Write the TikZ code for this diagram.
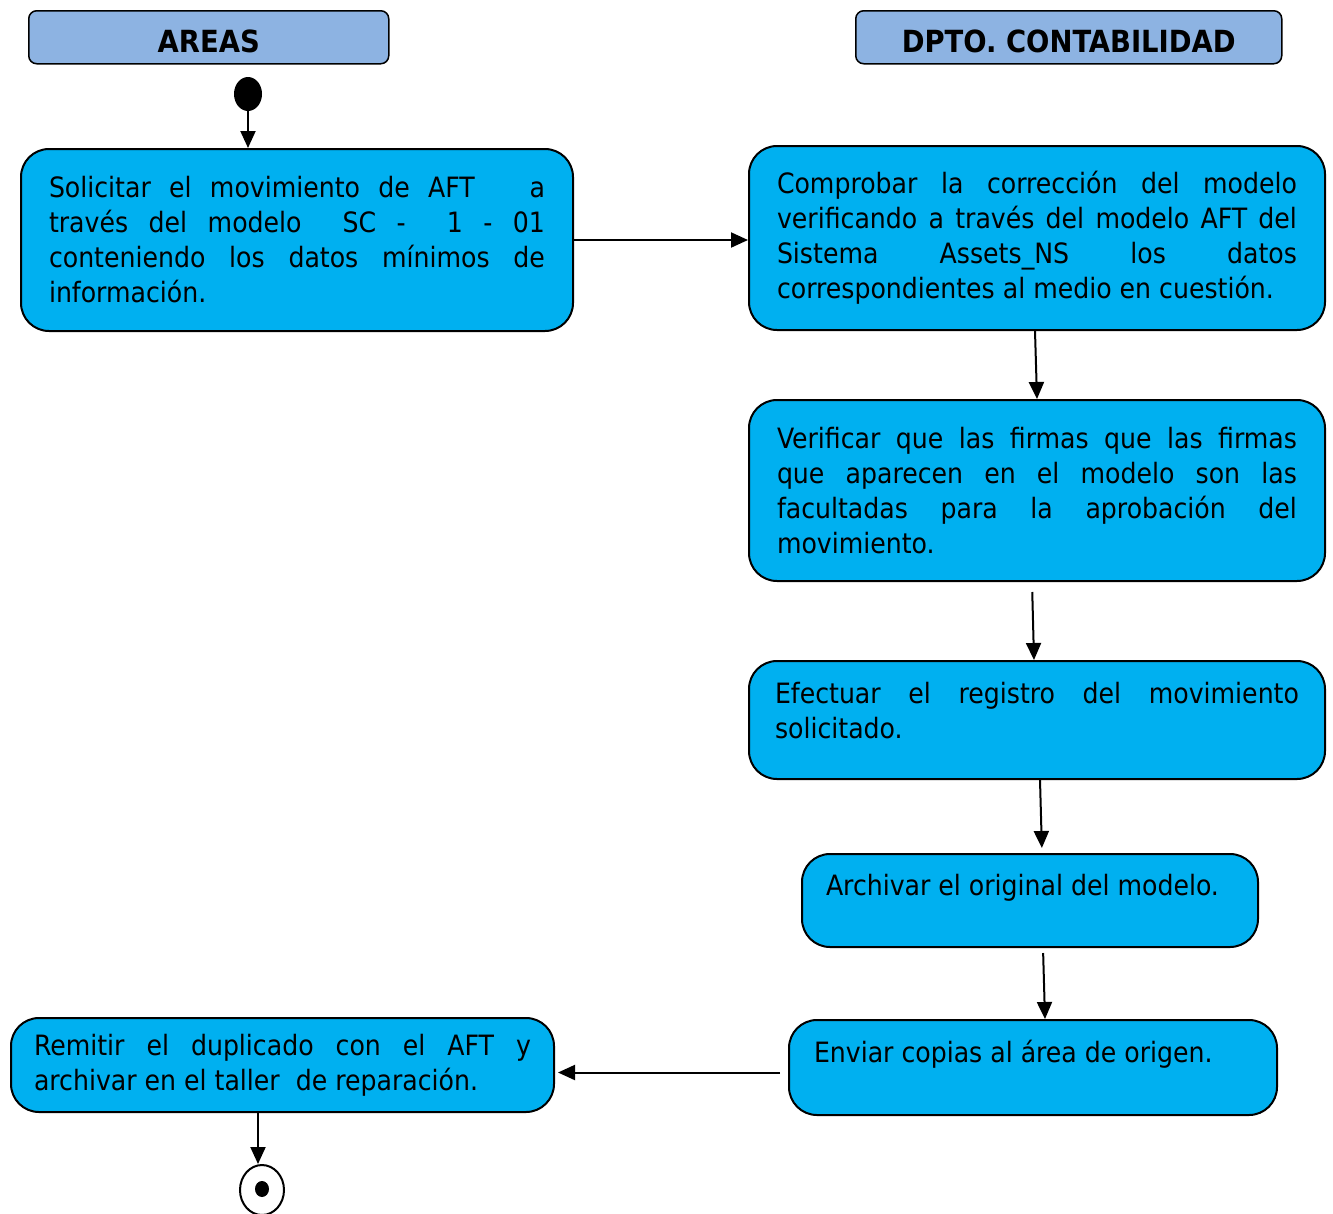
\documentclass[tikz,border=0pt]{standalone}
\usepackage{fontspec}
\setmainfont{DejaVu Sans Condensed}
\usetikzlibrary{arrows.meta,shapes.geometric}
\definecolor{actblue}{HTML}{00B0F0}
\definecolor{laneblue}{HTML}{8DB3E2}
\tikzset{
  lane/.style={draw,fill=laneblue,line width=1.5pt,rounded corners=8pt,anchor=north west,
    font=\bfseries\fontsize{30.5}{35}\selectfont,text height=30pt,text depth=0pt},
  act/.style={draw,fill=actblue,line width=2pt,rounded corners=28pt,anchor=north west,
    align=justify,inner ysep=4pt,font=\fontsize{28}{35}\selectfont},
  flow/.style={line width=2pt,-{Triangle[length=17pt,width=15pt]}}
}
\begin{document}
\begin{tikzpicture}[x=1pt,y=-1pt]
\useasboundingbox (0,0) rectangle (1333,1213);

% Lanes
\node[lane,minimum width=360,minimum height=53] (areas) at (28,10) {AREAS};
\node[lane,minimum width=426,minimum height=53] (dpto) at (855,10) {DPTO. CONTABILIDAD};

% Start / end
\node[ellipse,fill=black,inner sep=0pt,minimum width=28,minimum height=34] (start) at (248,94) {};
\node[ellipse,draw,line width=2pt,inner sep=0pt,minimum width=44,minimum height=50] (stop) at (262,1190) {};
\node[ellipse,fill=black,inner sep=0pt,minimum width=14,minimum height=16] (stopdot) at (262,1189) {};

% Activities
\node[act,inner xsep=28pt,text width=496,minimum height=182] (b1) at (20,148)
  {Solicitar el movimiento de AFT \ \ a\linebreak través del modelo \ SC - \ 1 - 01\linebreak conteniendo los datos mínimos de\linebreak información.};
\node[act,inner xsep=28pt,text width=520,minimum height=184] (b2) at (748,145)
  {Comprobar la corrección del modelo\linebreak verificando a través del modelo AFT del\linebreak Sistema Assets\_NS los datos\linebreak correspondientes al medio en cuestión.};
\node[act,inner xsep=28pt,text width=520,minimum height=181] (b3) at (748,399)
  {Verificar que las firmas que las firmas\linebreak que aparecen en el modelo son las\linebreak facultadas para la aprobación del\linebreak movimiento.};
\node[act,inner xsep=26pt,text width=524,minimum height=118,text depth=54pt] (b4) at (748,660)
  {Efectuar el registro del movimiento\linebreak solicitado.};
\node[act,inner xsep=24pt,text width=408,minimum height=93,text depth=31pt] (b5) at (801,853)
  {Archivar el original del modelo.};
\node[act,inner xsep=25pt,text width=438,minimum height=95,text depth=33pt] (b6) at (788,1019)
  {Enviar copias al área de origen.};
\node[act,inner xsep=23pt,text width=497,minimum height=94] (b7) at (10,1017)
  {Remitir el duplicado con el AFT y\linebreak archivar en el taller \ de reparación.};

% Flow
\draw[flow] (start.south) -- (start.south |- b1.north);
\draw[flow] (b1.east) -- (b1.east -| b2.west);
\draw[flow] ([xshift=-2pt]b2.south) -- (b3.north);
\draw[flow,shorten <=10pt] ([xshift=-5pt]b3.south) -- ([xshift=-3pt]b4.north);
\draw[flow,shorten >=5pt] ([xshift=3pt]b4.south) -- ([xshift=12pt]b5.north);
\draw[flow,shorten <=5pt] ([xshift=13pt]b5.south) -- ([xshift=12pt]b6.north);
\draw[flow,shorten <=8pt,shorten >=3pt] ([yshift=-5pt]b6.west) -- ([yshift=-5pt]b6.west -| b7.east);
\draw[flow] ([xshift=-4pt]stop.north |- b7.south) -- ([xshift=-4pt]stop.north);
\end{tikzpicture}
\end{document}
